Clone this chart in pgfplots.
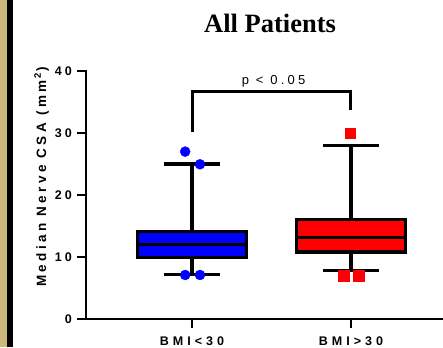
\documentclass[border=0pt]{standalone}
\usepackage{fontspec}
\setmainfont{Liberation Sans}
\newfontfamily\titlefont{Liberation Serif}
\usepackage{pgfplots}
\pgfplotsset{compat=1.18}
\usepgfplotslibrary{statistics}
\definecolor{tanstrip}{RGB}{205,184,124}
\begin{document}
\begin{tikzpicture}[x=1pt,y=1pt]
\path[use as bounding box] (0,0) rectangle (443,347);
\fill[tanstrip] (0,0) rectangle (7,347);
\fill[black] (7,0) rectangle (12.7,347);
\node[anchor=base, font=\titlefont\fontsize{26.5}{30}\selectfont\bfseries] at (270,314.7) {All Patients};
\node[rotate=90, anchor=base, font=\fontsize{13.5}{15}\selectfont\bfseries\addfontfeature{LetterSpace=25}] at (46,170) {Median Nerve CSA (mm\kern2pt\textsuperscript{2}\kern1pt)};
\begin{axis}[
  at={(86pt,28pt)}, anchor=south west,
  scale only axis, width=357pt, height=248pt,
  xmin=0.333, xmax=2.579, ymin=0, ymax=40,
  clip=false,
  boxplot/draw direction=y,
  axis x line=bottom, axis y line=left,
  axis line style={-, line width=2.5pt, line cap=rect},
  xtick={1,2}, xticklabels={BMI<30, BMI>30},
  ytick={0,10,20,30,40},
  tick align=outside, major tick length=9pt,
  tick style={line width=2.5pt, black},
  /pgf/number format/assume math mode=true,
  xticklabel style={anchor=base, inner sep=0pt, font=\fontsize{12.5}{14}\selectfont\bfseries\addfontfeature{LetterSpace=32}, yshift=-17pt},
  yticklabel style={anchor=east, inner sep=0pt, font=\fontsize{12.5}{14}\selectfont\bfseries\addfontfeature{LetterSpace=25}, xshift=-5pt},
]
\addplot[boxplot prepared={median=12, upper quartile=14.1, lower quartile=9.9, upper whisker=25, lower whisker=7.2, draw position=1, box extend=0.686, whisker extend=0.352}, draw=black, fill=blue, line width=3.2pt, solid] coordinates {};
\addplot[boxplot prepared={median=13.1, upper quartile=16.1, lower quartile=10.8, upper whisker=28, lower whisker=7.85, draw position=2, box extend=0.682, whisker extend=0.352}, draw=black, fill=red, line width=3.2pt, solid] coordinates {};
\addplot[only marks, mark=*, mark size=5pt, blue, mark options={draw=none, fill=blue}] coordinates {(0.957,27.0) (1.05,24.95) (0.957,7.1) (1.05,7.1)};
\addplot[only marks, mark=square*, mark size=5.2pt, red, mark options={draw=none, fill=red}] coordinates {(1.994,30) (1.954,7.0) (2.048,7.0)};
\addplot[black, line width=3pt, line join=miter, mark=none] coordinates {(1,30.2) (1,36.7) (2,36.7) (2,33.7)};
\node[anchor=base, font=\fontsize{13}{15}\selectfont\addfontfeature{LetterSpace=25}] at (axis cs:1.513,37.8) {p < 0.05};
\end{axis}
\end{tikzpicture}
\end{document}
